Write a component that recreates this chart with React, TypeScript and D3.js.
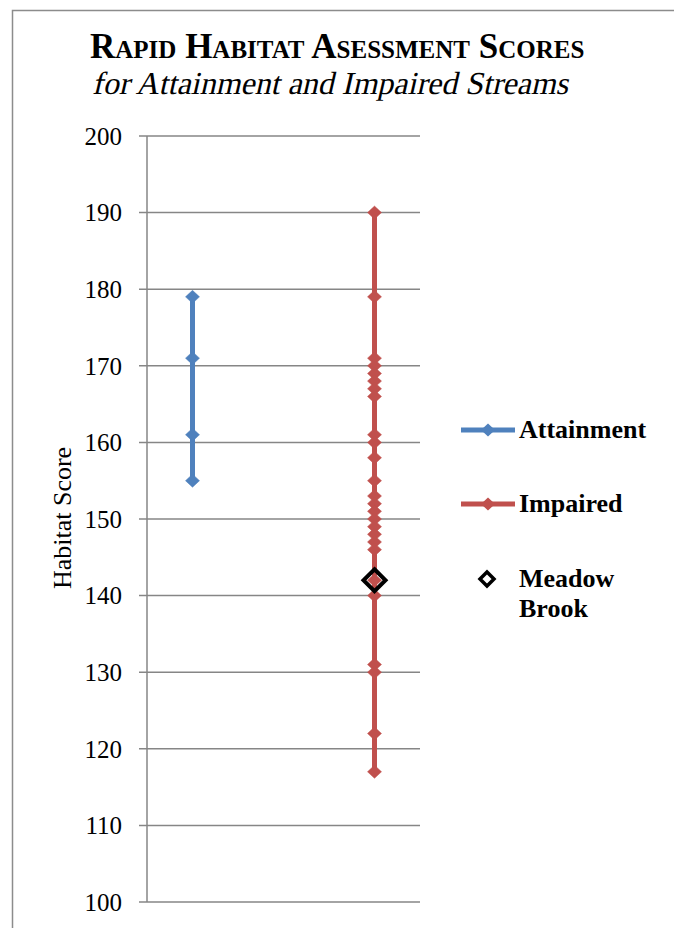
import React from "react";
import * as d3 from "d3";

const yTicks = [100, 110, 120, 130, 140, 150, 160, 170, 180, 190, 200];
const attainmentScores = [179, 171, 161, 155];
const impairedScores = [190, 179, 171, 170, 169, 168, 167, 166, 161, 160, 158, 155, 153, 152, 151, 150, 149, 148, 147, 146, 142, 140, 131, 130, 122, 117];
const meadowBrookScore = [142];
const categoryPositions = { attainment: 1, impaired: 3 };

const BLUE = "#4F81BD";
const RED = "#C0504D";
const GRID = "#868686";
const FONT = "'Liberation Serif', 'Times New Roman', serif";

function diamond(cx: number, cy: number, w: number, h: number) {
  return `M${cx},${cy - h / 2}L${cx + w / 2},${cy}L${cx},${cy + h / 2}L${cx - w / 2},${cy}Z`;
}

export default function App() {
  const y = d3.scaleLinear().domain([100, 200]).range([902, 136]);
  const x = d3.scaleLinear().domain([0.5, 3.5]).range([147, 420]);

  const seriesLine = (vals: number[], cat: number) => {
    const sorted = [...vals].sort((a, b) => b - a);
    const line = d3
      .line<number>()
      .x(() => x(cat))
      .y((d) => y(d));
    return line(sorted) || "";
  };

  return (
    <svg width={674} height={928} style={{ position: "absolute", left: 0, top: 0, background: "#fff" }}>
      <rect x={12.5} y={10.5} width={700} height={950} fill="#fff" stroke="#8c8c8c" strokeWidth={1.5} />
      <text x={90} y={58} fontFamily={FONT} fontWeight="bold" fontSize={35} style={{ fontVariant: "small-caps" }} fill="#000">
        Rapid Habitat Asessment Scores
      </text>
      <g transform="translate(92,94) skewX(-13)">
        <text x={0} y={0} fontFamily={FONT} fontSize={32} fill="#000">
          for Attainment and Impaired Streams
        </text>
      </g>

      {yTicks.map((t) => (
        <g key={t}>
          <line x1={139} x2={420} y1={y(t)} y2={y(t)} stroke={GRID} strokeWidth={1.5} />
          <text x={122} y={y(t)} dy="0.35em" textAnchor="end" fontFamily={FONT} fontSize={25} fill="#000">
            {t}
          </text>
        </g>
      ))}
      <line x1={147} x2={147} y1={y(200)} y2={y(100)} stroke={GRID} strokeWidth={1.5} />

      <text
        transform={`translate(62,518) rotate(-90)`}
        textAnchor="middle"
        dy="0.35em"
        fontFamily={FONT}
        fontSize={26}
        fill="#000"
      >
        Habitat Score
      </text>

      <path d={seriesLine(attainmentScores, categoryPositions.attainment)} stroke={BLUE} strokeWidth={5} fill="none" />
      {attainmentScores.map((v, i) => (
        <path key={"a" + i} d={diamond(x(categoryPositions.attainment), y(v), 14, 13)} fill={BLUE} stroke={BLUE} strokeWidth={0.5} />
      ))}

      <path d={seriesLine(impairedScores, categoryPositions.impaired)} stroke={RED} strokeWidth={5} fill="none" />
      {impairedScores.map((v, i) => (
        <path key={"i" + i} d={diamond(x(categoryPositions.impaired), y(v), 14, 13)} fill={RED} stroke={RED} strokeWidth={0.5} />
      ))}

      {meadowBrookScore.map((v, i) => (
        <path key={"m" + i} d={diamond(x(categoryPositions.impaired), y(v), 22, 22)} fill="none" stroke="#000" strokeWidth={4} />
      ))}

      {/* Legend */}
      <line x1={461} x2={515} y1={430} y2={430} stroke={BLUE} strokeWidth={5} />
      <path d={diamond(488, 430, 14, 13)} fill={BLUE} />
      <text x={519} y={438} fontFamily={FONT} fontWeight="bold" fontSize={26} fill="#000">Attainment</text>

      <line x1={461} x2={515} y1={504} y2={504} stroke={RED} strokeWidth={5} />
      <path d={diamond(488, 504, 14, 13)} fill={RED} />
      <text x={519} y={512} fontFamily={FONT} fontWeight="bold" fontSize={26} fill="#000">Impaired</text>

      <path d={diamond(487, 579, 14, 14)} fill="none" stroke="#000" strokeWidth={3.5} />
      <text x={519} y={587} fontFamily={FONT} fontWeight="bold" fontSize={26} fill="#000">Meadow</text>
      <text x={519} y={617} fontFamily={FONT} fontWeight="bold" fontSize={26} fill="#000">Brook</text>
    </svg>
  );
}
